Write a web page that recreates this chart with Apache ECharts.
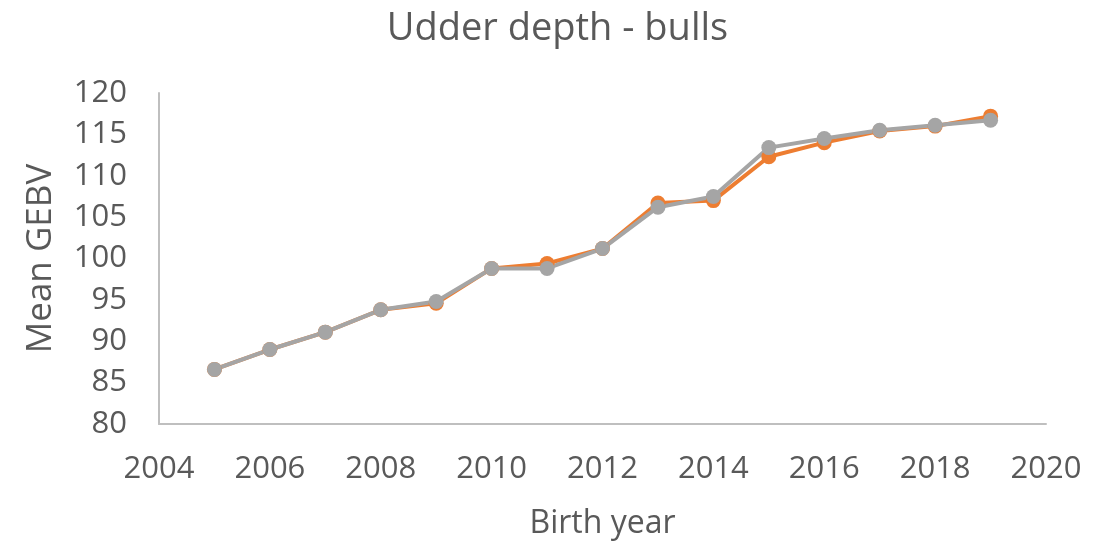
<!doctype html>
<html lang="en">
<head>
    <meta charset="UTF-8">
    <title>Udder depth - bulls</title>
    <script src="https://cdn.jsdelivr.net/npm/echarts@6/dist/echarts.min.js"></script>
    <style>
        html, body { margin: 0; padding: 0; background: #fff; }
        #main { width: 1115px; height: 547px; }
    </style>
</head>
<body>
<div id="main"></div>
<script>
    // birth years and the two mean GEBV series
    var years = [2005, 2006, 2007, 2008, 2009, 2010, 2011, 2012, 2013, 2014, 2015, 2016, 2017, 2018, 2019];
    var orangeVals = [86.6, 89.0, 91.1, 93.8, 94.6, 98.8, 99.4, 101.2, 106.7, 107.0, 112.3, 114.0, 115.4, 116.0, 117.2];
    var grayVals = [86.6, 89.0, 91.1, 93.8, 94.8, 98.8, 98.8, 101.2, 106.2, 107.5, 113.4, 114.5, 115.5, 116.1, 116.7];

    function pairs(xs, ys) {
        var out = [];
        for (var i = 0; i < xs.length; i++) {
            out.push([xs[i], ys[i]]);
        }
        return out;
    }

    var font = 'Open Sans, Liberation Sans, sans-serif';
    var textColor = '#595959';
    var axisColor = '#bfbfbf';

    var myChart = echarts.init(document.getElementById('main'));
    var option = {
        backgroundColor: '#fff',
        animation: false,
        title: {
            text: 'Udder depth - bulls',
            left: 'center',
            top: 5,
            textStyle: {color: textColor, fontSize: 38, fontWeight: 'normal', fontFamily: font}
        },
        grid: {left: 159, right: 69, top: 93, bottom: 123},
        xAxis: {
            type: 'value',
            min: 2004,
            max: 2020,
            interval: 2,
            name: 'Birth year',
            nameLocation: 'middle',
            nameGap: 84,
            nameTextStyle: {color: textColor, fontSize: 32, fontFamily: font},
            axisLine: {show: true, lineStyle: {color: axisColor, width: 2}},
            axisTick: {show: false},
            splitLine: {show: false},
            axisLabel: {
                color: textColor, fontSize: 31, fontFamily: font, margin: 30,
                formatter: function (v) { return String(v); }
            }
        },
        yAxis: {
            type: 'value',
            min: 80,
            max: 120,
            interval: 5,
            name: 'Mean GEBV',
            nameLocation: 'middle',
            nameGap: 100,
            nameTextStyle: {color: textColor, fontSize: 35, fontFamily: font},
            axisLine: {show: true, lineStyle: {color: axisColor, width: 2}},
            axisTick: {show: false},
            splitLine: {show: false},
            axisLabel: {color: textColor, fontSize: 31, fontFamily: font, margin: 32}
        },
        series: [{
            name: 'orange',
            type: 'line',
            data: pairs(years, orangeVals),
            symbol: 'circle',
            symbolSize: 15,
            lineStyle: {color: '#ED7D31', width: 4},
            itemStyle: {color: '#ED7D31'}
        }, {
            name: 'gray',
            type: 'line',
            data: pairs(years, grayVals),
            symbol: 'circle',
            symbolSize: 15,
            lineStyle: {color: '#A5A5A5', width: 4},
            itemStyle: {color: '#A5A5A5'}
        }]
    };
    myChart.setOption(option);
</script>
</body>
</html>
